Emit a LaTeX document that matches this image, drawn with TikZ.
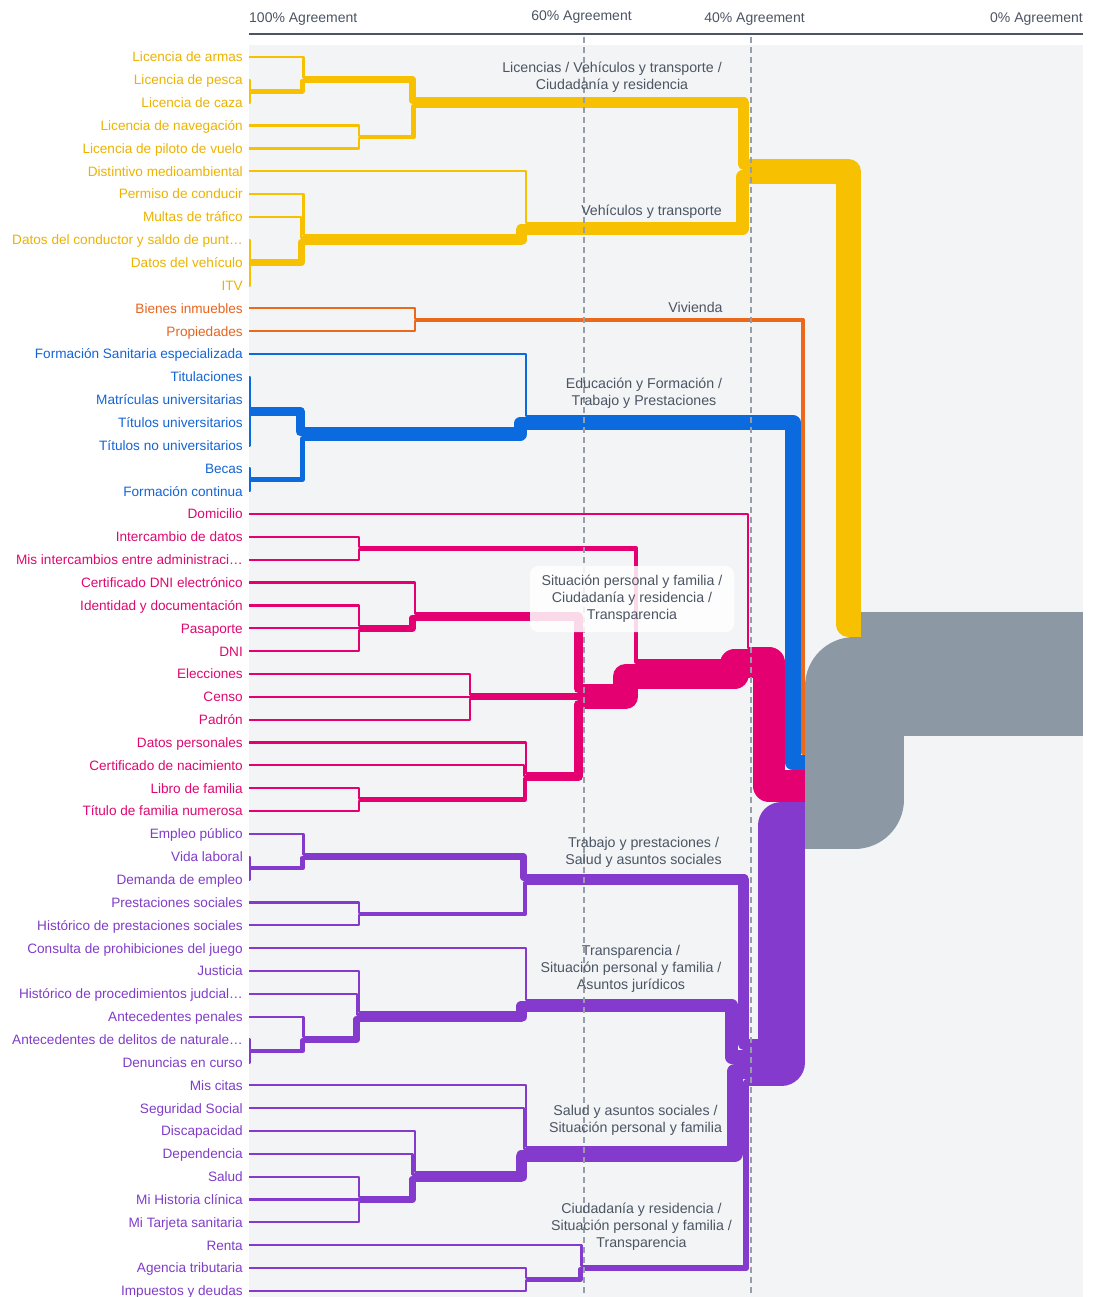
\documentclass[tikz,border=0pt]{standalone}
\usepackage{fontspec}
\setmainfont{Liberation Sans}
\definecolor{cY}{RGB}{247,192,0}
\definecolor{cO}{RGB}{236,104,26}
\definecolor{cB}{RGB}{11,106,222}
\definecolor{cP}{RGB}{228,0,112}
\definecolor{cU}{RGB}{132,58,204}
\definecolor{cG}{RGB}{140,153,164}
\definecolor{tY}{RGB}{236,178,0}
\definecolor{tO}{RGB}{230,100,30}
\definecolor{tB}{RGB}{20,100,212}
\definecolor{tP}{RGB}{222,8,112}
\definecolor{tU}{RGB}{128,60,200}
\definecolor{tGray}{RGB}{75,85,99}
\definecolor{cPanel}{RGB}{243,244,246}
\definecolor{cDash}{RGB}{150,158,170}
% width of one leaf in a branch stroke
\newcommand\unitw{2.25}
% branch from a child to its merge point; dx, dy in leaf widths
\newcommand\branchlink[6]{%
  \draw[#1, line width={(#2)*\unitw pt}, line join=round]
    (#3) -| ([shift={({-(#5)*\unitw},{(#6)*\unitw})}]#4) -- ([shift={(0,{(#6)*\unitw})}]#4);}
\begin{document}
\begin{tikzpicture}[x=1pt, y=-1pt,
  leaf/.style={anchor=base east, inner sep=0pt, font=\fontsize{13.6}{16}\selectfont},
  grouplabel/.style={align=center, inner sep=0pt, text=tGray, font=\fontsize{14.2}{17}\selectfont},
  axislabel/.style={inner sep=0pt, text=tGray, font=\fontsize{14}{16}\selectfont},
  guide/.style={draw=cDash, line width=1.5pt, dash pattern=on 6pt off 4pt}]
\useasboundingbox (0,0) rectangle (1094,1297);
\fill[cPanel] (249,45) rectangle (1083,1297);

% leaves
\foreach \i/\c/\t in {
  0/tY/Licencia de armas, 1/tY/Licencia de pesca, 2/tY/Licencia de caza,
  3/tY/Licencia de navegación, 4/tY/Licencia de piloto de vuelo,
  5/tY/Distintivo medioambiental, 6/tY/Permiso de conducir, 7/tY/Multas de tráfico,
  8/tY/Datos del conductor y saldo de punt…, 9/tY/Datos del vehículo, 10/tY/ITV,
  11/tO/Bienes inmuebles, 12/tO/Propiedades,
  13/tB/Formación Sanitaria especializada, 14/tB/Titulaciones,
  15/tB/Matrículas universitarias, 16/tB/Títulos universitarios,
  17/tB/Títulos no universitarios, 18/tB/Becas, 19/tB/Formación continua,
  20/tP/Domicilio, 21/tP/Intercambio de datos, 22/tP/Mis intercambios entre administraci…,
  23/tP/Certificado DNI electrónico, 24/tP/Identidad y documentación, 25/tP/Pasaporte,
  26/tP/DNI, 27/tP/Elecciones, 28/tP/Censo, 29/tP/Padrón, 30/tP/Datos personales,
  31/tP/Certificado de nacimiento, 32/tP/Libro de familia, 33/tP/Título de familia numerosa,
  34/tU/Empleo público, 35/tU/Vida laboral, 36/tU/Demanda de empleo,
  37/tU/Prestaciones sociales, 38/tU/Histórico de prestaciones sociales,
  39/tU/Consulta de prohibiciones del juego, 40/tU/Justicia,
  41/tU/Histórico de procedimientos judcial…, 42/tU/Antecedentes penales,
  43/tU/Antecedentes de delitos de naturale…, 44/tU/Denuncias en curso,
  45/tU/Mis citas, 46/tU/Seguridad Social, 47/tU/Discapacidad, 48/tU/Dependencia,
  49/tU/Salud, 50/tU/Mi Historia clínica, 51/tU/Mi Tarjeta sanitaria, 52/tU/Renta,
  53/tU/Agencia tributaria, 54/tU/Impuestos y deudas}{
  \node[leaf, text=\c] (l\i) at (243, {57+22.85*\i+4.9}) {\t};
  \coordinate (a\i) at (249, {57+22.85*\i});
}

% merge points
\coordinate (Y1) at (249, 91.275);
\coordinate (Y2) at (304.6, 79.85);
\coordinate (Y3) at (360.2, 136.975);
\coordinate (Y4) at (415.8, 102.7);
\coordinate (Y5) at (249, 262.65);
\coordinate (Y6) at (304.6, 239.8);
\coordinate (Y7) at (527, 228.375);
\coordinate (Y8) at (749.4, 171.25);
\coordinate (O1) at (415.8, 319.775);
\coordinate (B1) at (249, 411.175);
\coordinate (B2) at (249, 479.725);
\coordinate (B3) at (304.6, 434.025);
\coordinate (B4) at (527, 422.6);
\coordinate (P1) at (360.2, 548.275);
\coordinate (P2) at (360.2, 628.25);
\coordinate (P3) at (415.8, 616.825);
\coordinate (P4) at (471.4, 696.8);
\coordinate (P5) at (360.2, 799.625);
\coordinate (P6) at (527, 776.775);
\coordinate (P7) at (582.6, 696.8);
\coordinate (P8) at (638.2, 673.95);
\coordinate (P9) at (749.4, 662.525);
\coordinate (U1) at (249, 868.175);
\coordinate (U2) at (304.6, 856.75);
\coordinate (U3) at (360.2, 913.875);
\coordinate (U4) at (527, 879.6);
\coordinate (U5) at (249, 1050.975);
\coordinate (U6) at (304.6, 1039.55);
\coordinate (U7) at (360.2, 1016.7);
\coordinate (U8) at (527, 1005.275);
\coordinate (U9) at (360.2, 1199.5);
\coordinate (U10) at (415.8, 1176.65);
\coordinate (U11) at (527, 1153.8);
\coordinate (U12) at (527, 1279.475);
\coordinate (U13) at (582.6, 1268.05);
\coordinate (Pu) at (749.4, 1062.4);
\coordinate (R1) at (805, 799.625);
\coordinate (R) at (860.6, 673.95);
\coordinate (Rend) at (1083, 673.95);

% yellow
\branchlink{cY}{1}{a1}{Y1}{-0.5}{-0.5}
\branchlink{cY}{1}{a2}{Y1}{-0.5}{0.5}
\branchlink{cY}{1}{a0}{Y2}{0.5}{-1}
\branchlink{cY}{2}{Y1}{Y2}{1}{0.5}
\branchlink{cY}{1}{a3}{Y3}{0.5}{-0.5}
\branchlink{cY}{1}{a4}{Y3}{0.5}{0.5}
\branchlink{cY}{3}{Y2}{Y4}{1.5}{-1}
\branchlink{cY}{2}{Y3}{Y4}{1}{1.5}
\branchlink{cY}{1}{a8}{Y5}{-0.5}{-1}
\branchlink{cY}{1}{a9}{Y5}{-0.5}{0}
\branchlink{cY}{1}{a10}{Y5}{-0.5}{1}
\branchlink{cY}{1}{a6}{Y6}{0.5}{-2}
\branchlink{cY}{1}{a7}{Y6}{1.5}{-1}
\branchlink{cY}{3}{Y5}{Y6}{1.5}{1}
\branchlink{cY}{1}{a5}{Y7}{0.5}{-2.5}
\branchlink{cY}{5}{Y6}{Y7}{2.5}{0.5}
\branchlink{cY}{5}{Y4}{Y8}{2.5}{-3}
\branchlink{cY}{6}{Y7}{Y8}{3}{2.5}
% orange
\branchlink{cO}{1}{a11}{O1}{0.5}{-0.5}
\branchlink{cO}{1}{a12}{O1}{0.5}{0.5}
% blue
\branchlink{cB}{1}{a14}{B1}{-0.5}{-1.5}
\branchlink{cB}{1}{a15}{B1}{-0.5}{-0.5}
\branchlink{cB}{1}{a16}{B1}{-0.5}{0.5}
\branchlink{cB}{1}{a17}{B1}{-0.5}{1.5}
\branchlink{cB}{1}{a18}{B2}{-0.5}{-0.5}
\branchlink{cB}{1}{a19}{B2}{-0.5}{0.5}
\branchlink{cB}{4}{B1}{B3}{2}{-1}
\branchlink{cB}{2}{B2}{B3}{1}{2}
\branchlink{cB}{1}{a13}{B4}{0.5}{-3}
\branchlink{cB}{6}{B3}{B4}{3}{0.5}
% pink
\branchlink{cP}{1}{a21}{P1}{0.5}{-0.5}
\branchlink{cP}{1}{a22}{P1}{0.5}{0.5}
\branchlink{cP}{1}{a24}{P2}{0.5}{-1}
\branchlink{cP}{1}{a25}{P2}{0.5}{0}
\branchlink{cP}{1}{a26}{P2}{0.5}{1}
\branchlink{cP}{1}{a23}{P3}{0.5}{-1.5}
\branchlink{cP}{3}{P2}{P3}{1.5}{0.5}
\branchlink{cP}{1}{a27}{P4}{0.5}{-1}
\branchlink{cP}{1}{a28}{P4}{0.5}{0}
\branchlink{cP}{1}{a29}{P4}{0.5}{1}
\branchlink{cP}{1}{a32}{P5}{0.5}{-0.5}
\branchlink{cP}{1}{a33}{P5}{0.5}{0.5}
\branchlink{cP}{1}{a30}{P6}{0.5}{-1.5}
\branchlink{cP}{1}{a31}{P6}{1.5}{-0.5}
\branchlink{cP}{2}{P5}{P6}{1}{1}
\branchlink{cP}{4}{P3}{P7}{2}{-3.5}
\branchlink{cP}{3}{P4}{P7}{1.5}{0}
\branchlink{cP}{4}{P6}{P7}{2}{3.5}
\branchlink{cP}{2}{P1}{P8}{1}{-5.5}
\branchlink{cP}{11}{P7}{P8}{5.5}{1}
\branchlink{cP}{1}{a20}{P9}{0.5}{-6.5}
\branchlink{cP}{13}{P8}{P9}{6.5}{0.5}
% purple
\branchlink{cU}{1}{a35}{U1}{-0.5}{-0.5}
\branchlink{cU}{1}{a36}{U1}{-0.5}{0.5}
\branchlink{cU}{1}{a34}{U2}{0.5}{-1}
\branchlink{cU}{2}{U1}{U2}{1}{0.5}
\branchlink{cU}{1}{a37}{U3}{0.5}{-0.5}
\branchlink{cU}{1}{a38}{U3}{0.5}{0.5}
\branchlink{cU}{3}{U2}{U4}{1.5}{-1}
\branchlink{cU}{2}{U3}{U4}{1}{1.5}
\branchlink{cU}{1}{a43}{U5}{-0.5}{-0.5}
\branchlink{cU}{1}{a44}{U5}{-0.5}{0.5}
\branchlink{cU}{1}{a42}{U6}{0.5}{-1}
\branchlink{cU}{2}{U5}{U6}{1}{0.5}
\branchlink{cU}{1}{a40}{U7}{0.5}{-2}
\branchlink{cU}{1}{a41}{U7}{1.5}{-1}
\branchlink{cU}{3}{U6}{U7}{1.5}{1}
\branchlink{cU}{1}{a39}{U8}{0.5}{-2.5}
\branchlink{cU}{5}{U7}{U8}{2.5}{0.5}
\branchlink{cU}{1}{a49}{U9}{0.5}{-1}
\branchlink{cU}{1}{a50}{U9}{0.5}{0}
\branchlink{cU}{1}{a51}{U9}{0.5}{1}
\branchlink{cU}{1}{a47}{U10}{0.5}{-2}
\branchlink{cU}{1}{a48}{U10}{1.5}{-1}
\branchlink{cU}{3}{U9}{U10}{1.5}{1}
\branchlink{cU}{1}{a45}{U11}{0.5}{-3}
\branchlink{cU}{1}{a46}{U11}{1.5}{-2}
\branchlink{cU}{5}{U10}{U11}{2.5}{1}
\branchlink{cU}{1}{a53}{U12}{0.5}{-0.5}
\branchlink{cU}{1}{a54}{U12}{0.5}{0.5}
\branchlink{cU}{1}{a52}{U13}{0.5}{-1}
\branchlink{cU}{2}{U12}{U13}{1}{0.5}
\branchlink{cU}{5}{U4}{Pu}{2.5}{-8}
\branchlink{cU}{6}{U8}{Pu}{8}{-2.5}
\branchlink{cU}{7}{U11}{Pu}{6.5}{4}
\branchlink{cU}{3}{U13}{Pu}{1.5}{9}
% top level
\branchlink{cO}{2}{O1}{R1}{1}{-21}
\branchlink{cB}{7}{B4}{R1}{5.5}{-16.5}
\branchlink{cP}{14}{P9}{R1}{16}{-6}
\branchlink{cU}{21}{Pu}{R1}{10.5}{11.5}
\branchlink{cG}{44}{R1}{R}{2.7}{5.5}
\branchlink{cY}{11}{Y8}{R}{5.5}{-22}
\draw[cG, line width={55*\unitw pt}] (R) -- (Rend);

% agreement guides
\draw[guide] (584,37) -- (584,1297);
\draw[guide] (751,37) -- (751,1297);

% group labels
\node[grouplabel] (g1) at (612,77.5) {Licencias / Vehículos y transporte /\\Ciudadanía y residencia};
\node[grouplabel] (g2) at (651.5,212) {Vehículos y transporte};
\node[grouplabel] (g3) at (695.5,307) {Vivienda};
\node[grouplabel] (g4) at (644,393.5) {Educación y Formación /\\Trabajo y Prestaciones};
\node[grouplabel, fill=white, fill opacity=0.85, text opacity=1, rounded corners=8pt,
      minimum width=204pt, minimum height=66pt] (g5) at (632,599)
      {Situación personal y familia /\\Ciudadanía y residencia /\\Transparencia};
\node[grouplabel] (g6) at (643.5,852.5) {Trabajo y prestaciones /\\Salud y asuntos sociales};
\node[grouplabel] (g7) at (631,969) {Transparencia /\\Situación personal y familia /\\Asuntos jurídicos};
\node[grouplabel] (g8) at (635.5,1120.5) {Salud y asuntos sociales /\\Situación personal y familia};
\node[grouplabel] (g9) at (641.5,1227) {Ciudadanía y residencia /\\Situación personal y familia /\\Transparencia};

% axis
\draw[tGray, line width=2pt] (249,34) -- (1083,34);
\node[axislabel, anchor=base west] (x100) at (249,23) {100\% Agreement};
\node[axislabel, anchor=base] (x60) at (581.5,21) {60\% Agreement};
\node[axislabel, anchor=base] (x40) at (754.5,23) {40\% Agreement};
\node[axislabel, anchor=base east] (x0) at (1083,23) {0\% Agreement};
\end{tikzpicture}
\end{document}
